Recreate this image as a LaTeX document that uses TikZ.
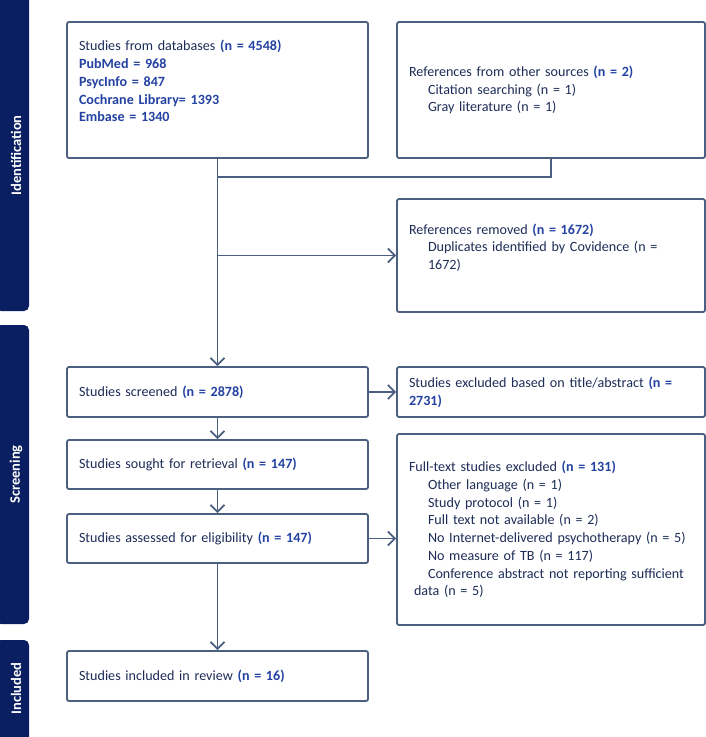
\documentclass[tikz,border=0pt]{standalone}
\usepackage{fontspec}
\setmainfont{Carlito}
\usepackage{tikz}
\usetikzlibrary{arrows.meta}
\definecolor{navy}{HTML}{0A1F62}
\definecolor{edge}{HTML}{4B5F80}
\definecolor{txt}{HTML}{1E2D58}
\definecolor{num}{HTML}{2342A2}
\newcommand{\nb}[1]{\textcolor{num}{\bfseries #1}}
\newcommand{\ind}{\hspace*{19pt}}

\begin{document}
\begin{tikzpicture}[x=1pt,y=-1pt,
    box/.style={draw=edge,line width=1.8pt,rounded corners=2pt,fill=white,
      inner xsep=12pt,inner ysep=2pt,align=left,text=txt,
      font=\fontsize{14.1}{17.7}\selectfont},
    lbox/.style={box,text width=277pt,minimum height=#1},
    rbox/.style={box,text width=284pt,minimum height=#1},
    stage/.style={fill=navy,rounded corners=5pt,minimum width=33pt,minimum height=#1},
    stagelabel/.style={rotate=90,text=white,font=\fontsize{14.5}{16}\selectfont\bfseries},
    arr/.style={draw=edge,line width=1.8pt,-{Straight Barb[length=7pt,width=14pt]}},
    ln/.style={draw=edge,line width=1.8pt}]
  \useasboundingbox (0,0) rectangle (706,737);
  % stage bars
  \node (idbar) at (12.5,150) [stage=322pt] {};
  \node at (16,155.5) [stagelabel] {Identification};
  \node (scbar) at (12.5,474.5) [stage=299pt] {};
  \node at (16,474.5) [stagelabel] {Screening};
  \node (inbar) at (12.5,694) [stage=108pt] {};
  \node at (16,688.5) [stagelabel] {Included};
  % boxes
  \node (db) at (217.5,90) [lbox=136pt] {Studies from databases \nb{(n = 4548)}\\
    \nb{PubMed = 968}\\ \nb{PsycInfo = 847}\\ \nb{Cochrane Library= 1393}\\ \nb{Embase = 1340}\\ \mbox{}};
  \node (other) at (551,90) [rbox=136pt] {References from other sources \nb{(n = 2)}\\
    \ind Citation searching (n = 1)\\ \ind Gray literature (n = 1)};
  \node (removed) at (551,255.5) [rbox=113pt] {References removed \nb{(n = 1672)}\\
    \ind Duplicates identified by Covidence (n =\\ \ind 1672)\\ \mbox{}};
  \node (screened) at (217.5,392) [lbox=50pt] {Studies screened \nb{(n = 2878)}};
  \node (tiab) at (551,392) [rbox=50pt] {Studies excluded based on title/abstract \nb{(n =}\\ \nb{2731)}};
  \node (sought) at (217.5,464.5) [lbox=49pt] {Studies sought for retrieval \nb{(n = 147)}};
  \node (fulltext) at (551,529.5) [rbox=191pt] {Full-text studies excluded \nb{(n = 131)}\\
    \ind Other language (n = 1)\\ \ind Study protocol (n = 1)\\ \ind Full text not available (n = 2)\\
    \ind No Internet-delivered psychotherapy (n = 5)\\ \ind No measure of TB (n = 117)\\
    \ind Conference abstract not reporting sufficient\\ \hspace*{5pt}data (n = 5)};
  \node (assessed) at (217.5,538.5) [lbox=49pt] {Studies assessed for eligibility \nb{(n = 147)}};
  \node (included) at (217.5,676) [lbox=50pt] {Studies included in review \nb{(n = 16)}};
  % connectors
  \coordinate (merge) at (217.5,177);
  \coordinate (split) at (217.5,255.5);
  \draw[ln] (other.south) |- (merge);
  \draw[arr] (db.south) -- (screened.north);
  \draw[arr] (split) -- (removed.west);
  \draw[arr] (screened.east) -- (tiab.west);
  \draw[arr] (screened.south) -- (sought.north);
  \draw[arr] (sought.south) -- (assessed.north);
  \draw[arr] (assessed.east) -- (assessed.east -| fulltext.west);
  \draw[arr] (assessed.south) -- (included.north);
\end{tikzpicture}
\end{document}
